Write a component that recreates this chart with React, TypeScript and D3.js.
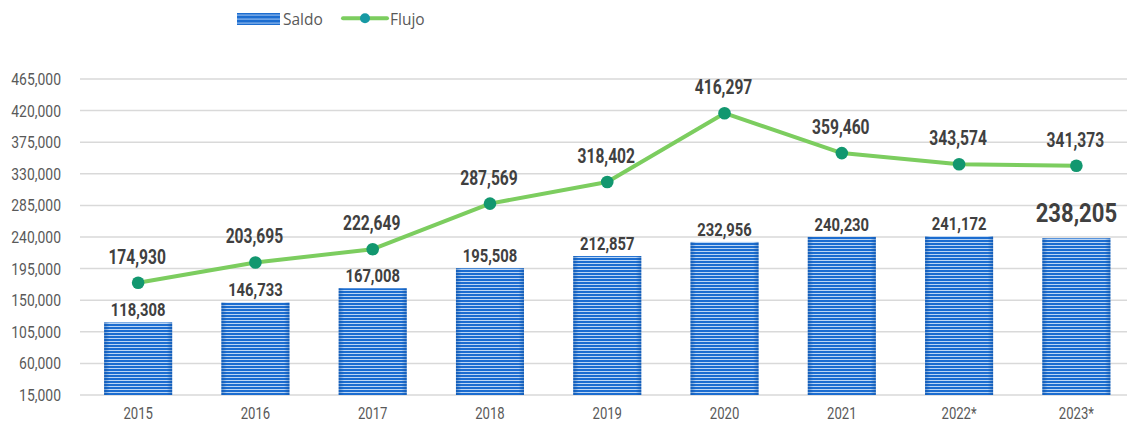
import React from "react";
import * as d3 from "d3";

const categories = ["2015", "2016", "2017", "2018", "2019", "2020", "2021", "2022*", "2023*"];
const saldo = [118308, 146733, 167008, 195508, 212857, 232956, 240230, 241172, 238205];
const flujo = [174930, 203695, 222649, 287569, 318402, 416297, 359460, 343574, 341373];
const yTicks = [15000, 60000, 105000, 150000, 195000, 240000, 285000, 330000, 375000, 420000, 465000];

const W = 1127;
const H = 423;
const fmt = d3.format(",");

export default function App() {
  const x = d3
    .scaleBand<string>()
    .domain(categories)
    .range([79.5, 1135])
    .paddingInner(0.42)
    .paddingOuter(0.21);
  const y = d3.scaleLinear().domain([15000, 465000]).range([395, 79]);
  const cx = (c: string) => (x(c) as number) + x.bandwidth() / 2;

  const line = d3
    .line<number>()
    .x((_, i) => cx(categories[i]))
    .y((d) => y(d));

  const sx = 0.82;
  const condensed = (tx: number, ty: number, s = sx) => `translate(${tx},${ty}) scale(${s},1)`;

  return (
    <svg
      width={W}
      height={H}
      style={{ position: "absolute", left: 0, top: 0, background: "#fff" }}
      fontFamily="Roboto, 'Liberation Sans', sans-serif"
    >
      <defs>
        <pattern id="stripes" width="6" height="3" patternUnits="userSpaceOnUse">
          <rect width="6" height="3" fill="#1c6dd0" />
          <rect y="2" width="6" height="1" fill="#bcd6f4" />
        </pattern>
        <pattern id="stripesLegend" width="6" height="4" patternUnits="userSpaceOnUse">
          <rect width="6" height="4" fill="#1c6dd0" />
          <rect y="2.5" width="6" height="1.2" fill="#8fb9ec" />
        </pattern>
        <linearGradient id="edge" x1="0" x2="1" y1="0" y2="0">
          <stop offset="0" stopColor="#0b4fa3" stopOpacity="0.5" />
          <stop offset="0.08" stopColor="#0b4fa3" stopOpacity="0" />
          <stop offset="0.92" stopColor="#0b4fa3" stopOpacity="0" />
          <stop offset="1" stopColor="#0b4fa3" stopOpacity="0.5" />
        </linearGradient>
      </defs>

      {/* legend */}
      <g>
        <rect x={237} y={13} width={43} height={12} fill="url(#stripesLegend)" />
        <text x={283} y={25} fontFamily="'Open Sans', sans-serif" fontSize={15.5} fill="#595959">
          Saldo
        </text>
        <line x1={343} x2={387} y1={18.3} y2={18.3} stroke="#7ccd5f" strokeWidth={4} strokeLinecap="round" />
        <circle cx={365} cy={18.3} r={5} fill="#1799a4" />
        <text x={390} y={25} fontFamily="'Open Sans', sans-serif" fontSize={15.5} fill="#595959">
          Flujo
        </text>
      </g>

      {/* gridlines and y labels */}
      {yTicks.map((t) => (
        <g key={t}>
          <line x1={80} x2={W} y1={y(t)} y2={y(t)} stroke="#d9d9d9" strokeWidth={1.5} />
          <text transform={condensed(61, y(t) + 6)} textAnchor="end" fontSize={17} fill="#595959">
            {fmt(t)}
          </text>
        </g>
      ))}

      {/* bars */}
      {saldo.map((v, i) => {
        const c = categories[i];
        const bx = x(c) as number;
        const by = y(v);
        const bh = y(15000) - by;
        return (
          <g key={c}>
            <rect x={bx} y={by} width={x.bandwidth()} height={bh} fill="url(#stripes)" />
            <rect x={bx} y={by} width={x.bandwidth()} height={bh} fill="url(#edge)" />
          </g>
        );
      })}

      {/* bar labels */}
      {saldo.map((v, i) => {
        const c = categories[i];
        const big = i === saldo.length - 1;
        return (
          <text
            key={"bl" + c}
            transform={condensed(cx(c), y(v) - (big ? 16 : 6), big ? 0.85 : 0.8)}
            textAnchor="middle"
            fontSize={big ? 26 : 18.5}
            fontWeight={700}
            fill="#404040"
          >
            {fmt(v)}
          </text>
        );
      })}

      {/* x labels */}
      {categories.map((c) => (
        <text key={"x" + c} transform={condensed(cx(c), 419)} textAnchor="middle" fontSize={16} fill="#595959">
          {c}
        </text>
      ))}

      {/* line */}
      <path d={line(flujo) ?? ""} fill="none" stroke="#7ccd5f" strokeWidth={4} strokeLinejoin="round" />
      {flujo.map((v, i) => (
        <circle key={"d" + i} cx={cx(categories[i])} cy={y(v)} r={6.3} fill="#12976f" />
      ))}
      {flujo.map((v, i) => (
        <text
          key={"fl" + i}
          transform={condensed(cx(categories[i]) - 1, y(v) - 19, 0.8)}
          textAnchor="middle"
          fontSize={19.5}
          fontWeight={700}
          fill="#404040"
        >
          {fmt(v)}
        </text>
      ))}
    </svg>
  );
}
